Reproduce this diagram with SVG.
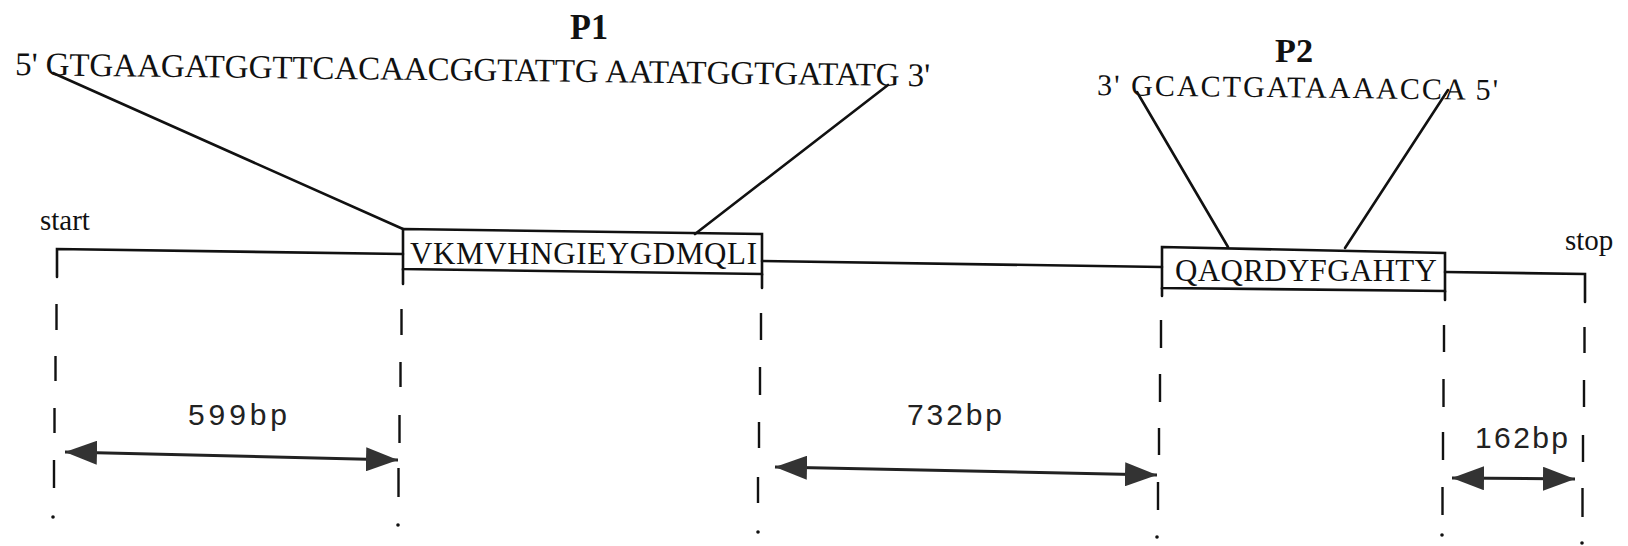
<svg xmlns="http://www.w3.org/2000/svg" width="1628" height="546" viewBox="0 0 1628 546">
<style>
.ser{font-family:"Liberation Serif","Times New Roman",serif;fill:#111}
.num{font-family:"Liberation Sans",Arial,sans-serif;fill:#222}
.ln{stroke:#111;stroke-width:2.6;fill:none;stroke-linecap:round}
.dl{stroke:#111;stroke-width:2.4;fill:none}
.box{stroke:#111;stroke-width:2.6;fill:#fff}
.arr{stroke:#222;stroke-width:3;fill:none}
</style>
<defs>
<marker id="ah" markerUnits="userSpaceOnUse" markerWidth="32" markerHeight="24" viewBox="0 0 32 24" refX="32" refY="12" orient="auto-start-reverse">
<path d="M0,0 L32,12 L0,24 z" fill="#333"/>
</marker>
</defs>
<rect width="1628" height="546" fill="#fff"/>

<g id="p1-label">
<text class="ser" x="570" y="39" font-size="36" font-weight="bold" textLength="38" lengthAdjust="spacingAndGlyphs">P1</text>
<text class="ser" x="15" y="75" font-size="33" textLength="915" lengthAdjust="spacing" transform="rotate(0.7 15 75)">5' GTGAAGATGGTTCACAACGGTATTG AATATGGTGATATG 3'</text>
</g>
<g id="p2-label">
<text class="ser" x="1275" y="62" font-size="34" font-weight="bold" textLength="38" lengthAdjust="spacingAndGlyphs">P2</text>
<text class="ser" x="1097" y="95" font-size="30" textLength="401" lengthAdjust="spacing" transform="rotate(0.7 1097 95)">3' GCACTGATAAAACCA 5'</text>
</g>

<g id="start">
<text class="ser" x="40" y="230" font-size="29">start</text>
</g>
<g id="stop">
<text class="ser" x="1565" y="250" font-size="29">stop</text>
</g>

<g id="box1">
<polygon class="box" points="403,229 762,234 762,274 403,269"/>
<text class="ser" x="410" y="264" font-size="31" textLength="347" lengthAdjust="spacing">VKMVHNGIEYGDMQLI</text>
</g>
<g id="box2">
<polygon class="box" points="1162,247 1445,253 1445,291 1162,288"/>
<text class="ser" x="1175" y="281" font-size="31" textLength="262" lengthAdjust="spacing">QAQRDYFGAHTY</text>
</g>

<g id="connectors">
<path class="ln" d="M53,73 L403,229"/>
<path class="ln" d="M888,85 L695,234"/>
<path class="ln" d="M1137,92 L1228,247"/>
<path class="ln" d="M1448,90 L1345,248"/>
<path class="ln" d="M57,277 L57,249 L403,254"/>
<path class="ln" d="M762,261 L1162,267"/>
<path class="ln" d="M1445,272 L1585,274 L1585,302"/>
<path class="ln" d="M403,269 L403,284 M762,274 L762,288 M1162,288 L1162,296 M1445,291 L1445,300"/>
<path class="dl" d="M56.5,304 L56.5,330 M55.5,356 L55.5,381 M54.5,408 L54.5,433 M54,460 L54,488"/>
<circle cx="53" cy="517" r="1.8" fill="#111"/>
<path class="dl" d="M401.5,309 L401.5,335 M400.5,362 L400.5,387 M399.5,415 L399.5,443 M398.5,468 L398.5,497"/>
<circle cx="398" cy="525" r="1.8" fill="#111"/>
<path class="dl" d="M761,313 L761,340 M760,367 L760,395 M759,422 L759,448 M758,477 L758,503"/>
<circle cx="758" cy="532" r="1.8" fill="#111"/>
<path class="dl" d="M1161,320 L1161,348 M1160,374 L1160,402 M1159,428 L1159,455 M1158,482 L1158,510"/>
<circle cx="1157" cy="537" r="1.8" fill="#111"/>
<path class="dl" d="M1444,325 L1444,352 M1443.5,379 L1443.5,407 M1443,432 L1443,460 M1442.5,487 L1442.5,515"/>
<circle cx="1442" cy="535" r="1.8" fill="#111"/>
<path class="dl" d="M1584.5,327 L1584.5,353 M1584,380 L1584,407 M1583,435 L1583,462 M1582.5,488 L1582.5,517"/>
<circle cx="1582" cy="543" r="1.8" fill="#111"/>
<path class="arr" d="M65,452 L398,460" marker-start="url(#ah)" marker-end="url(#ah)"/>
<path class="arr" d="M775,467 L1157,475" marker-start="url(#ah)" marker-end="url(#ah)"/>
<path class="arr" d="M1452,478 L1575,479" marker-start="url(#ah)" marker-end="url(#ah)"/>
</g>

<g id="dist-labels">
<text class="num" x="188" y="425" font-size="30" textLength="99" lengthAdjust="spacing">599bp</text>
<text class="num" x="907" y="425" font-size="30" textLength="95" lengthAdjust="spacing">732bp</text>
<text class="num" x="1475" y="448" font-size="30" textLength="93" lengthAdjust="spacing">162bp</text>
</g>
</svg>
